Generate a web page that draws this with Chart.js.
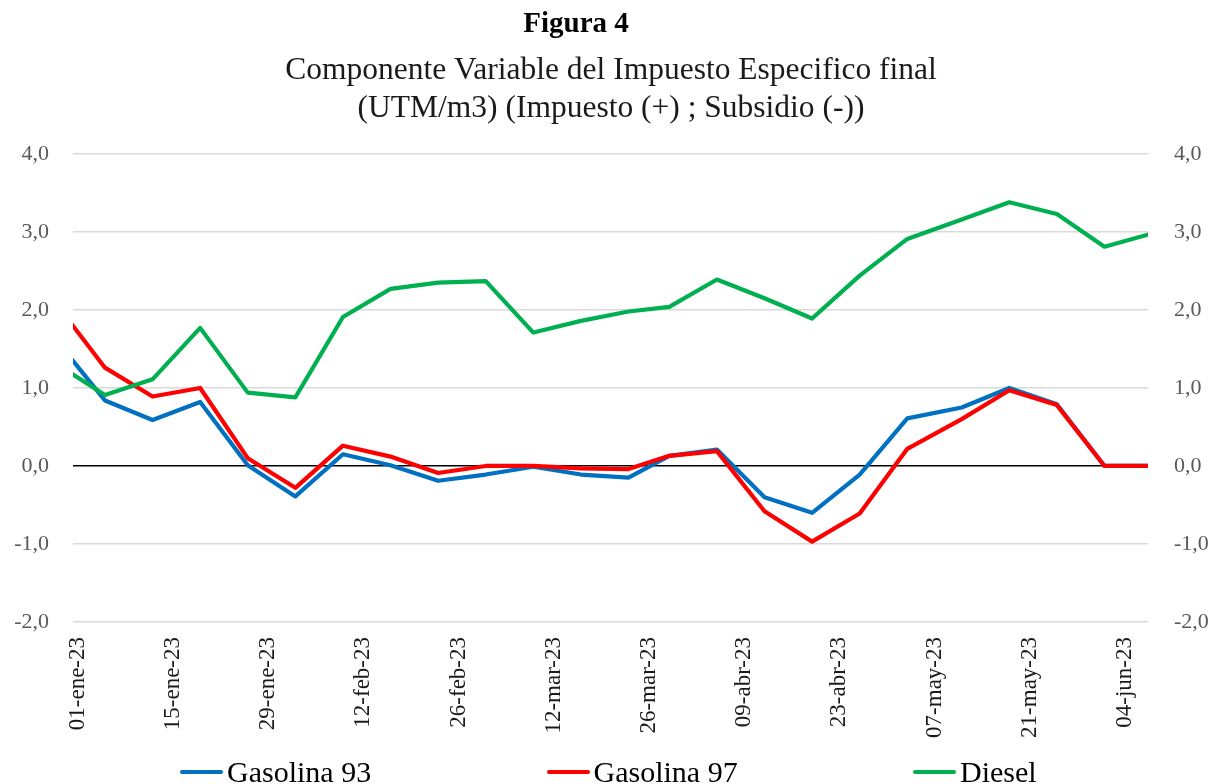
<!DOCTYPE html>
<html>
<head>
<meta charset="utf-8">
<script src="https://cdn.jsdelivr.net/npm/chart.js@4.4.1/dist/chart.umd.min.js"></script>
<style>
    body { margin: 0; overflow: hidden; background: #fff; }
    #wrap { position: relative; width: 1222px; height: 784px; overflow: hidden; }
    #legend { position: absolute; left: 180px; top: 754px; display: flex; }
    #legend .item { display: flex; align-items: center; width: 366.5px; }
    #legend .swatch { width: 43px; height: 4px; border-radius: 2px; }
    #legend .label { margin-left: 4px; font: 30px "Liberation Serif", serif; line-height: 36px; color: #000; }
</style>
</head>
<body>
<div id="wrap">
    <canvas id="chart" width="1222" height="784"></canvas>
    <div id="legend"></div>
</div>
<script>
// fechas de publicacion (semanal)
var fechas = ["2022-12-31", "2023-01-05", "2023-01-12", "2023-01-19", "2023-01-26",
    "2023-02-02", "2023-02-09", "2023-02-16", "2023-02-23", "2023-03-02",
    "2023-03-09", "2023-03-16", "2023-03-23", "2023-03-29", "2023-04-05",
    "2023-04-12", "2023-04-19", "2023-04-26", "2023-05-03", "2023-05-11",
    "2023-05-18", "2023-05-25", "2023-06-01", "2023-06-08"];

var gasolina93 = [1.38, 0.84, 0.59, 0.82, 0.01, -0.39, 0.15, 0.01, -0.19, -0.11,
    -0.01, -0.11, -0.15, 0.13, 0.21, -0.40, -0.60, -0.11, 0.61, 0.75,
    1.00, 0.79, 0.00, 0.00];
var gasolina97 = [1.83, 1.26, 0.89, 1.00, 0.10, -0.28, 0.26, 0.12, -0.09, 0.00,
    0.00, -0.03, -0.04, 0.13, 0.19, -0.58, -0.97, -0.61, 0.22, 0.60,
    0.97, 0.78, 0.00, 0.00];
var diesel = [1.19, 0.91, 1.11, 1.77, 0.94, 0.88, 1.91, 2.27, 2.35, 2.37,
    1.71, 1.86, 1.98, 2.04, 2.39, 2.15, 1.89, 2.44, 2.91, 3.16,
    3.38, 3.23, 2.81, 2.98];

var yTicks = [-2, -1, 0, 1, 2, 3, 4];
var meses = ["ene", "feb", "mar", "abr", "may", "jun", "jul", "ago", "sep", "oct", "nov", "dic"];

var base = Date.UTC(2023, 0, 1);
var DIA = 86400000;
var fuente = '"Liberation Serif", serif';

function dia(s) {
    var p = s.split("-");
    return (Date.UTC(+p[0], +p[1] - 1, +p[2]) - base) / DIA;
}
var dias = fechas.map(dia);

function serie(vals) {
    return dias.map(function (d, i) { return { x: d, y: vals[i] }; });
}

function fmtFecha(v) {
    var dt = new Date(base + v * DIA);
    var dd = String(dt.getUTCDate()).padStart(2, "0");
    return dd + "-" + meses[dt.getUTCMonth()] + "-" + String(dt.getUTCFullYear() % 100);
}

function fmtNum(v) {
    return v.toFixed(1).replace(".", ",");
}

// el titulo "Figura 4" va un poco a la izquierda del centro
var tituloCorrido = {
    id: "tituloCorrido",
    afterLayout: function (chart) {
        var t = chart.titleBlock;
        if (t) { t.right = t.left + 2 * 576; }
    }
};

var ctx = document.getElementById("chart");
var lineChart = new Chart(ctx, {
    type: "line",
    plugins: [tituloCorrido],
    data: {
        datasets: [{
            label: "Gasolina 93",
            data: serie(gasolina93),
            borderColor: "#0070C0",
            backgroundColor: "#0070C0",
            order: 3
        }, {
            label: "Gasolina 97",
            data: serie(gasolina97),
            borderColor: "#FF0000",
            backgroundColor: "#FF0000",
            order: 2
        }, {
            label: "Diesel",
            data: serie(diesel),
            borderColor: "#00B050",
            backgroundColor: "#00B050",
            order: 1
        }]
    },
    options: {
        responsive: false,
        animation: false,
        devicePixelRatio: 1,
        elements: {
            line: { borderWidth: 4.2, tension: 0, borderJoinStyle: "round", borderCapStyle: "butt" },
            point: { radius: 0, hoverRadius: 0 }
        },
        layout: { padding: 0 },
        plugins: {
            legend: { display: false },
            tooltip: { enabled: false },
            title: {
                display: true,
                text: "Figura 4",
                color: "#000",
                font: { family: fuente, size: 29, weight: "bold", lineHeight: 1.2 },
                padding: { top: 7.5, bottom: 6 }
            },
            subtitle: {
                display: true,
                text: ["Componente Variable del Impuesto Especifico final", "(UTM/m3) (Impuesto (+) ; Subsidio (-))"],
                color: "#1a1a1a",
                font: { family: fuente, size: 31.5, lineHeight: 1.2 },
                padding: { top: 4, bottom: 26 }
            }
        },
        scales: {
            x: {
                type: "linear",
                min: -0.7,
                max: 157.4,
                grid: { display: false },
                border: { display: false },
                afterFit: function (s) { s.height = 784 - 622; },
                ticks: {
                    stepSize: 14,
                    includeBounds: false,
                    autoSkip: false,
                    minRotation: 90,
                    maxRotation: 90,
                    padding: 7,
                    color: "#1a1a1a",
                    font: { family: fuente, size: 23 },
                    callback: fmtFecha
                }
            },
            y: {
                position: "left",
                min: yTicks[0],
                max: yTicks[yTicks.length - 1],
                border: { display: false },
                afterFit: function (s) { s.width = 73; },
                grid: {
                    drawTicks: false,
                    lineWidth: 1.5,
                    color: function (c) { return c.tick && c.tick.value === 0 ? "#000" : "#d9d9d9"; }
                },
                ticks: {
                    stepSize: 1,
                    padding: 24,
                    color: "#595959",
                    font: { family: fuente, size: 22 },
                    callback: fmtNum
                }
            },
            y2: {
                position: "right",
                min: yTicks[0],
                max: yTicks[yTicks.length - 1],
                border: { display: false },
                afterFit: function (s) { s.width = 1222 - 1148; },
                grid: { display: false, drawTicks: false },
                ticks: {
                    stepSize: 1,
                    padding: 26,
                    color: "#595959",
                    font: { family: fuente, size: 22 },
                    callback: fmtNum
                }
            }
        }
    }
});

// leyenda abajo
var legend = document.getElementById("legend");
lineChart.data.datasets.forEach(function (ds) {
    var item = document.createElement("div");
    item.className = "item";
    var sw = document.createElement("span");
    sw.className = "swatch";
    sw.style.background = ds.borderColor;
    var lb = document.createElement("span");
    lb.className = "label";
    lb.textContent = ds.label;
    item.appendChild(sw);
    item.appendChild(lb);
    legend.appendChild(item);
});
</script>
</body>
</html>
